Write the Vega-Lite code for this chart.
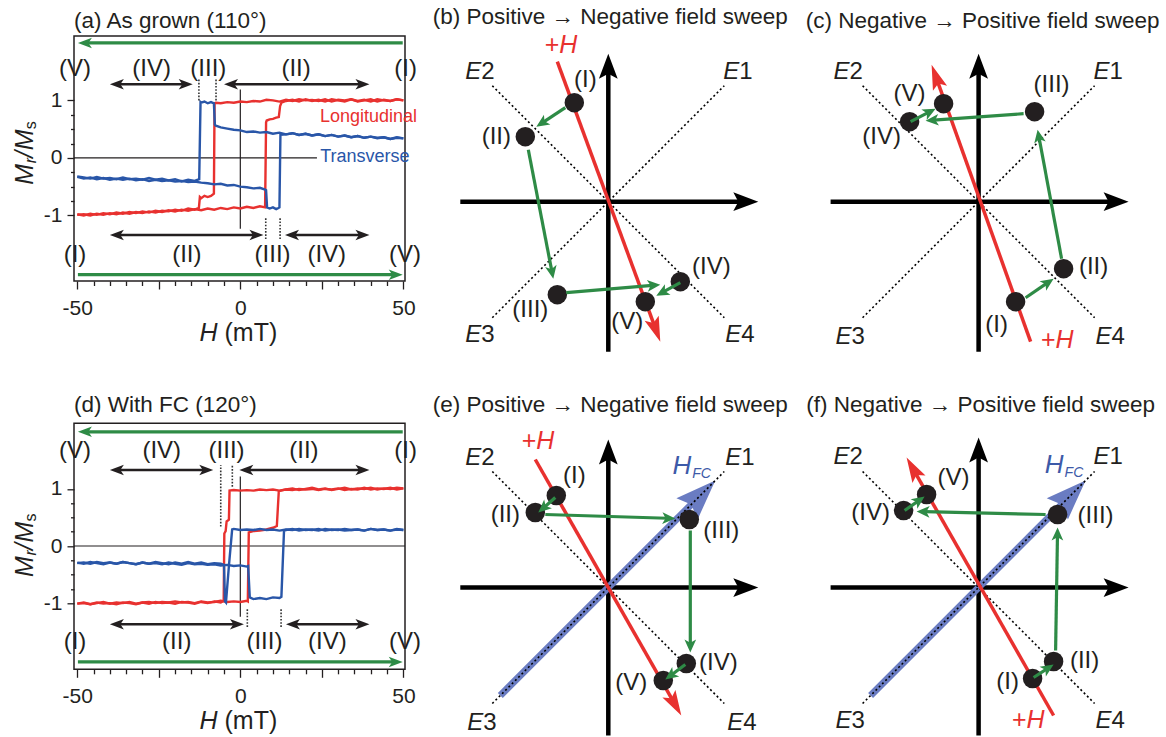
{
"$schema":"https://vega.github.io/schema/vega-lite/v6.json",
"padding":{"left":12,"top":6,"right":0,"bottom":0},
"background":"white",
"config":{"font":"Liberation Sans","view":{"stroke":"#231f20","strokeWidth":1.5}},
"datasets":{
"cv":[
{"p":"a","c":"Longitudinal","b":"d","xs":[50,48,46,44,42,40,38,36,34,32,30,28,26,24,22,20,18,16,14,12,10,8,6,4,2,0,-2,-4,-6,-7.5,-7.9,-8.1,-9,-10,-11,-12,-12.4,-12.7,-14,-16,-18,-20,-22,-24,-26,-28,-30,-32,-34,-36,-38,-40,-42,-44,-46,-48,-50],"ys":[1.00,1.02,0.99,1.01,0.98,1.02,1.00,0.98,1.02,1.00,1.01,0.98,1.02,0.99,1.01,1.00,1.02,0.99,1.01,0.98,1.00,1.01,0.98,0.99,0.97,0.98,0.96,0.97,0.95,0.96,0.95,-0.62,-0.66,-0.68,-0.66,-0.70,-0.68,-0.87,-0.90,-0.88,-0.92,-0.90,-0.93,-0.92,-0.95,-0.93,-0.96,-0.94,-0.97,-0.95,-0.98,-0.96,-0.99,-0.97,-1.00,-0.98,-0.99]},
{"p":"a","c":"Longitudinal","b":"a","xs":[-50,-48,-46,-44,-42,-40,-38,-36,-34,-32,-30,-28,-26,-24,-22,-20,-18,-16,-14,-12,-10,-8,-6,-4,-2,0,2,4,6,7.6,7.9,8.1,9,10,11,11.8,12.2,12.6,14,16,18,20,22,24,26,28,30,32,34,36,38,40,42,44,46,48,50],"ys":[-0.98,-1.00,-0.97,-0.99,-0.96,-0.98,-0.95,-0.97,-0.94,-0.96,-0.93,-0.95,-0.92,-0.94,-0.91,-0.93,-0.90,-0.92,-0.89,-0.91,-0.88,-0.90,-0.87,-0.89,-0.86,-0.88,-0.85,-0.87,-0.84,-0.86,0.62,0.65,0.67,0.68,0.70,0.71,0.90,0.96,0.99,1.01,0.98,1.02,0.99,1.01,0.98,1.02,1.00,0.98,1.02,0.99,1.01,0.98,1.02,1.00,0.99,1.02,1.00]},
{"p":"a","c":"Transverse","b":"d","xs":[50,48,46,44,42,40,38,36,34,32,30,28,26,24,22,20,18,16,14,12,10,8,6,4,2,0,-2,-4,-6,-7.5,-7.8,-8.1,-9,-10,-11,-12,-12.2,-12.6,-14,-16,-18,-20,-22,-24,-26,-28,-30,-32,-34,-36,-38,-40,-42,-44,-46,-48,-50],"ys":[0.34,0.36,0.33,0.36,0.35,0.37,0.35,0.38,0.36,0.39,0.37,0.40,0.38,0.41,0.39,0.42,0.40,0.43,0.41,0.44,0.42,0.45,0.44,0.46,0.45,0.48,0.49,0.51,0.53,0.56,0.58,0.95,0.97,0.95,0.98,0.96,0.97,-0.37,-0.40,-0.38,-0.41,-0.37,-0.39,-0.36,-0.38,-0.35,-0.38,-0.36,-0.37,-0.34,-0.37,-0.35,-0.36,-0.33,-0.36,-0.34,-0.32]},
{"p":"a","c":"Transverse","b":"a","xs":[-50,-48,-46,-44,-42,-40,-38,-36,-34,-32,-30,-28,-26,-24,-22,-20,-18,-16,-14,-12,-10,-8,-6,-4,-2,0,2,4,6,7.6,7.9,8.2,9,10,11,11.7,12.0,12.3,14,16,18,20,22,24,26,28,30,32,34,36,38,40,42,44,46,48,50],"ys":[-0.33,-0.36,-0.34,-0.37,-0.35,-0.38,-0.36,-0.38,-0.36,-0.39,-0.37,-0.40,-0.38,-0.40,-0.39,-0.41,-0.40,-0.42,-0.41,-0.43,-0.44,-0.46,-0.45,-0.48,-0.47,-0.50,-0.51,-0.53,-0.52,-0.55,-0.56,-0.86,-0.88,-0.86,-0.89,-0.87,-0.86,0.40,0.41,0.43,0.40,0.42,0.39,0.41,0.38,0.40,0.37,0.39,0.36,0.38,0.35,0.37,0.34,0.36,0.33,0.35,0.34]},
{"p":"d","c":"Longitudinal","b":"d","xs":[50,48,46,44,42,40,38,36,34,32,30,28,26,24,22,20,18,16,14,12,10,8,6,4,2,0,-2,-3.3,-3.5,-4.2,-4.5,-4.9,-5.1,-6,-8,-10,-12,-14,-16,-18,-20,-22,-24,-26,-28,-30,-32,-34,-36,-38,-40,-42,-44,-46,-48,-50],"ys":[1.01,0.99,1.02,1.00,1.01,0.99,1.02,0.99,1.00,0.98,1.01,0.99,1.00,0.98,1.00,0.99,1.00,0.98,0.99,0.97,0.99,0.98,0.99,0.97,0.98,0.97,0.98,0.97,0.46,0.43,0.26,0.22,-0.96,-0.99,-0.97,-1.00,-0.98,-1.01,-0.99,-0.98,-1.01,-0.99,-1.00,-0.98,-1.01,-0.99,-1.02,-1.00,-0.99,-1.02,-1.00,-1.01,-0.99,-1.02,-1.00,-1.01]},
{"p":"d","c":"Longitudinal","b":"a","xs":[-50,-48,-46,-44,-42,-40,-38,-36,-34,-32,-30,-28,-26,-24,-22,-20,-18,-16,-14,-12,-10,-8,-6,-4,-2,0,2,2.3,2.6,4,6,8,10,11.2,11.8,13,14,16,18,20,22,24,26,28,30,32,34,36,38,40,42,44,46,48,50],"ys":[-1.01,-0.99,-1.02,-1.00,-0.98,-1.01,-0.99,-1.00,-0.98,-1.01,-0.99,-0.98,-1.00,-0.98,-0.99,-0.97,-0.99,-0.98,-1.00,-0.97,-0.99,-0.98,-0.96,-0.98,-0.97,-0.98,-0.96,-0.97,0.24,0.26,0.27,0.29,0.32,0.35,0.96,0.98,0.99,1.01,0.98,1.00,1.02,0.99,1.01,0.98,1.00,1.02,0.99,1.01,1.00,1.02,0.99,1.01,1.00,1.02,1.01]},
{"p":"d","c":"Transverse","b":"d","xs":[50,48,46,44,42,40,38,36,34,32,30,28,26,24,22,20,18,16,14,12,10,8,6,4,2,0,-2,-2.5,-3.5,-4.4,-4.7,-5.0,-6,-8,-10,-12,-14,-16,-18,-20,-22,-24,-26,-28,-30,-32,-34,-36,-38,-40,-42,-44,-46,-48,-50],"ys":[0.28,0.30,0.27,0.29,0.28,0.30,0.27,0.29,0.28,0.27,0.29,0.28,0.30,0.27,0.29,0.28,0.30,0.28,0.29,0.27,0.29,0.28,0.30,0.28,0.29,0.28,0.30,0.29,-0.35,-0.99,-0.97,-0.33,-0.31,-0.30,-0.32,-0.29,-0.31,-0.28,-0.31,-0.29,-0.32,-0.30,-0.28,-0.31,-0.29,-0.32,-0.30,-0.28,-0.31,-0.29,-0.30,-0.28,-0.31,-0.29,-0.30]},
{"p":"d","c":"Transverse","b":"a","xs":[-50,-48,-46,-44,-42,-40,-38,-36,-34,-32,-30,-28,-26,-24,-22,-20,-18,-16,-14,-12,-10,-8,-6,-4,-2,0,2,2.4,2.9,4,6,8,10,12,12.6,13.4,14,16,18,20,22,24,26,28,30,32,34,36,38,40,42,44,46,48,50],"ys":[-0.29,-0.31,-0.28,-0.30,-0.32,-0.29,-0.31,-0.28,-0.30,-0.32,-0.29,-0.31,-0.30,-0.32,-0.29,-0.31,-0.33,-0.30,-0.32,-0.31,-0.33,-0.32,-0.34,-0.33,-0.35,-0.34,-0.36,-0.35,-0.90,-0.93,-0.91,-0.93,-0.90,-0.91,-0.89,0.27,0.28,0.30,0.27,0.29,0.28,0.30,0.27,0.29,0.28,0.30,0.28,0.29,0.27,0.30,0.28,0.29,0.27,0.29,0.28]}
],
"lp":[
{"p":"a","k":"zero","x":-51,"y":0,"x2":23.5,"y2":0},
{"p":"a","k":"zero","x":0,"y":-1.23,"x2":0,"y2":1.19},
{"p":"a","k":"dot","x":-12.7,"y":1.0,"x2":-12.7,"y2":1.39},
{"p":"a","k":"dot","x":-7.45,"y":1.0,"x2":-7.45,"y2":1.39},
{"p":"a","k":"dot","x":7.8,"y":-1.05,"x2":7.8,"y2":-1.42},
{"p":"a","k":"dot","x":12.2,"y":-1.05,"x2":12.2,"y2":-1.42},
{"p":"a","k":"green","x":49.8,"y":2.0,"x2":-49.8,"y2":2.0},
{"p":"a","k":"green","x":-49.8,"y":-2.03,"x2":49.8,"y2":-2.03},
{"p":"a","k":"dbl","x":-40,"y":1.28,"x2":-14.6,"y2":1.28},
{"p":"a","k":"dbl","x":-5,"y":1.28,"x2":39.6,"y2":1.28},
{"p":"a","k":"dbl","x":-40,"y":-1.34,"x2":7.1,"y2":-1.34},
{"p":"a","k":"dbl","x":13.7,"y":-1.34,"x2":39.6,"y2":-1.34},
{"p":"a","k":"lab","t":"(V)","x":-50.7,"y":1.54},
{"p":"a","k":"lab","t":"(IV)","x":-27.2,"y":1.54},
{"p":"a","k":"lab","t":"(III)","x":-9.8,"y":1.54},
{"p":"a","k":"lab","t":"(II)","x":17.1,"y":1.54},
{"p":"a","k":"lab","t":"(I)","x":50.7,"y":1.54},
{"p":"a","k":"lab","t":"(I)","x":-50.7,"y":-1.69},
{"p":"a","k":"lab","t":"(II)","x":-16.4,"y":-1.69},
{"p":"a","k":"lab","t":"(III)","x":9.9,"y":-1.69},
{"p":"a","k":"lab","t":"(IV)","x":26.5,"y":-1.69},
{"p":"a","k":"lab","t":"(V)","x":50.5,"y":-1.69},
{"p":"a","k":"name","t":"Longitudinal","c":"Longitudinal","x":24.4,"y":0.72},
{"p":"a","k":"name","t":"Transverse","c":"Transverse","x":24.5,"y":0.02},
{"p":"a","k":"xt","x":-7,"y":-3.18},
{"p":"a","k":"yt","x":-66.1,"y":0.16},
{"p":"d","k":"zero","x":-51,"y":0,"x2":50.5,"y2":0},
{"p":"d","k":"zero","x":0,"y":-1.24,"x2":0,"y2":1.22},
{"p":"d","k":"dot","x":-6.0,"y":0.34,"x2":-6.0,"y2":1.42},
{"p":"d","k":"dot","x":-2.45,"y":1.04,"x2":-2.45,"y2":1.42},
{"p":"d","k":"dot","x":2.15,"y":-1.11,"x2":2.15,"y2":-1.43},
{"p":"d","k":"dot","x":12.5,"y":-1.11,"x2":12.5,"y2":-1.43},
{"p":"d","k":"green","x":49.8,"y":2.0,"x2":-49.8,"y2":2.0},
{"p":"d","k":"green","x":-49.8,"y":-2.03,"x2":49.8,"y2":-2.03},
{"p":"d","k":"dbl","x":-40,"y":1.33,"x2":-8.3,"y2":1.33},
{"p":"d","k":"dbl","x":-0.3,"y":1.33,"x2":39.6,"y2":1.33},
{"p":"d","k":"dbl","x":-40,"y":-1.37,"x2":1.1,"y2":-1.37},
{"p":"d","k":"dbl","x":14,"y":-1.37,"x2":39.6,"y2":-1.37},
{"p":"d","k":"lab","t":"(V)","x":-50.7,"y":1.67},
{"p":"d","k":"lab","t":"(IV)","x":-24.1,"y":1.67},
{"p":"d","k":"lab","t":"(III)","x":-4.2,"y":1.67},
{"p":"d","k":"lab","t":"(II)","x":19.5,"y":1.67},
{"p":"d","k":"lab","t":"(I)","x":50.7,"y":1.67},
{"p":"d","k":"lab","t":"(I)","x":-50.7,"y":-1.68},
{"p":"d","k":"lab","t":"(II)","x":-19.5,"y":-1.68},
{"p":"d","k":"lab","t":"(III)","x":7.4,"y":-1.68},
{"p":"d","k":"lab","t":"(IV)","x":26.7,"y":-1.68},
{"p":"d","k":"lab","t":"(V)","x":50.5,"y":-1.68},
{"p":"d","k":"xt","x":-7,"y":-3.2},
{"p":"d","k":"yt","x":-66.1,"y":0.09}
],
"dg":[
{"p":"b","k":"axis","x":-1.48,"y":0,"x2":1.5,"y2":0},
{"p":"b","k":"axis","x":0,"y":-1.5,"x2":0,"y2":1.48},
{"p":"b","k":"diag","x":-1.16,"y":-1.16,"x2":1.16,"y2":1.16},
{"p":"b","k":"diag","x":-1.16,"y":1.16,"x2":1.16,"y2":-1.16},
{"p":"b","k":"red","x":-0.51,"y":1.4,"x2":0.52,"y2":-1.4},
{"p":"b","k":"green","x":-0.43,"y":0.94,"x2":-0.72,"y2":0.75},
{"p":"b","k":"green","x":-0.8,"y":0.52,"x2":-0.55,"y2":-0.77},
{"p":"b","k":"green","x":-0.42,"y":-0.91,"x2":0.52,"y2":-0.83},
{"p":"b","k":"green","x":0.72,"y":-0.81,"x2":0.48,"y2":-0.94},
{"p":"b","k":"pt","x":-0.34,"y":0.99},
{"p":"b","k":"pt","x":-0.83,"y":0.65},
{"p":"b","k":"pt","x":-0.51,"y":-0.93},
{"p":"b","k":"pt","x":0.72,"y":-0.8},
{"p":"b","k":"pt","x":0.37,"y":-1.0},
{"p":"b","k":"lab","t":"(I)","x":-0.23,"y":1.22},
{"p":"b","k":"lab","t":"(II)","x":-1.12,"y":0.65},
{"p":"b","k":"lab","t":"(III)","x":-0.78,"y":-1.08},
{"p":"b","k":"lab","t":"(IV)","x":1.03,"y":-0.65},
{"p":"b","k":"lab","t":"(V)","x":0.19,"y":-1.2},
{"p":"b","k":"E","t":"1","x":1.31,"y":1.3},
{"p":"b","k":"E","t":"2","x":-1.27,"y":1.3},
{"p":"b","k":"E","t":"3","x":-1.27,"y":-1.33},
{"p":"b","k":"E","t":"4","x":1.33,"y":-1.33},
{"p":"b","k":"H","x":-0.49,"y":1.57},
{"p":"c","k":"axis","x":-1.48,"y":0,"x2":1.5,"y2":0},
{"p":"c","k":"axis","x":0,"y":-1.5,"x2":0,"y2":1.48},
{"p":"c","k":"diag","x":-1.16,"y":-1.16,"x2":1.16,"y2":1.16},
{"p":"c","k":"diag","x":-1.16,"y":1.16,"x2":1.16,"y2":-1.16},
{"p":"c","k":"red","x":0.52,"y":-1.4,"x2":-0.47,"y2":1.37},
{"p":"c","k":"green","x":0.47,"y":-0.96,"x2":0.75,"y2":-0.77},
{"p":"c","k":"green","x":0.83,"y":-0.57,"x2":0.59,"y2":0.72},
{"p":"c","k":"green","x":0.45,"y":0.88,"x2":-0.53,"y2":0.81},
{"p":"c","k":"green","x":-0.68,"y":0.8,"x2":-0.43,"y2":0.93},
{"p":"c","k":"pt","x":0.37,"y":-1.0},
{"p":"c","k":"pt","x":0.85,"y":-0.67},
{"p":"c","k":"pt","x":0.56,"y":0.9},
{"p":"c","k":"pt","x":-0.69,"y":0.8},
{"p":"c","k":"pt","x":-0.35,"y":0.98},
{"p":"c","k":"lab","t":"(I)","x":0.18,"y":-1.23},
{"p":"c","k":"lab","t":"(II)","x":1.15,"y":-0.65},
{"p":"c","k":"lab","t":"(III)","x":0.73,"y":1.17},
{"p":"c","k":"lab","t":"(IV)","x":-0.97,"y":0.65},
{"p":"c","k":"lab","t":"(V)","x":-0.69,"y":1.08},
{"p":"c","k":"E","t":"1","x":1.31,"y":1.3},
{"p":"c","k":"E","t":"2","x":-1.29,"y":1.3},
{"p":"c","k":"E","t":"3","x":-1.27,"y":-1.35},
{"p":"c","k":"E","t":"4","x":1.33,"y":-1.35},
{"p":"c","k":"H","x":0.77,"y":-1.38},
{"p":"e","k":"axis","x":-1.48,"y":0,"x2":1.5,"y2":0},
{"p":"e","k":"axis","x":0,"y":-1.48,"x2":0,"y2":1.48},
{"p":"e","k":"fc","x":-1.08,"y":-1.08,"x2":1.07,"y2":1.07},
{"p":"e","k":"diag","x":-1.16,"y":-1.16,"x2":1.16,"y2":1.16},
{"p":"e","k":"diag","x":-1.16,"y":1.16,"x2":1.16,"y2":-1.16},
{"p":"e","k":"red","x":-0.73,"y":1.28,"x2":0.73,"y2":-1.28},
{"p":"e","k":"green","x":-0.53,"y":0.9,"x2":-0.7,"y2":0.75},
{"p":"e","k":"green","x":-0.63,"y":0.73,"x2":0.67,"y2":0.69},
{"p":"e","k":"green","x":0.82,"y":0.57,"x2":0.82,"y2":-0.65},
{"p":"e","k":"green","x":0.77,"y":-0.77,"x2":0.57,"y2":-0.92},
{"p":"e","k":"pt","x":-0.52,"y":0.92},
{"p":"e","k":"pt","x":-0.73,"y":0.75},
{"p":"e","k":"pt","x":0.81,"y":0.68},
{"p":"e","k":"pt","x":0.78,"y":-0.76},
{"p":"e","k":"pt","x":0.55,"y":-0.93},
{"p":"e","k":"lab","t":"(I)","x":-0.34,"y":1.12},
{"p":"e","k":"lab","t":"(II)","x":-1.03,"y":0.73},
{"p":"e","k":"lab","t":"(III)","x":1.13,"y":0.57},
{"p":"e","k":"lab","t":"(IV)","x":1.1,"y":-0.75},
{"p":"e","k":"lab","t":"(V)","x":0.23,"y":-0.95},
{"p":"e","k":"E","t":"1","x":1.33,"y":1.3},
{"p":"e","k":"E","t":"2","x":-1.27,"y":1.3},
{"p":"e","k":"E","t":"3","x":-1.25,"y":-1.35},
{"p":"e","k":"E","t":"4","x":1.35,"y":-1.35},
{"p":"e","k":"H","x":-0.72,"y":1.47},
{"p":"e","k":"HFC","x":0.83,"y":1.22},
{"p":"f","k":"axis","x":-1.48,"y":0,"x2":1.5,"y2":0},
{"p":"f","k":"axis","x":0,"y":-1.48,"x2":0,"y2":1.5},
{"p":"f","k":"fc","x":-1.08,"y":-1.08,"x2":1.07,"y2":1.07},
{"p":"f","k":"diag","x":-1.16,"y":-1.16,"x2":1.16,"y2":1.16},
{"p":"f","k":"diag","x":-1.16,"y":1.16,"x2":1.16,"y2":-1.16},
{"p":"f","k":"red","x":0.75,"y":-1.28,"x2":-0.72,"y2":1.3},
{"p":"f","k":"green","x":0.55,"y":-0.9,"x2":0.75,"y2":-0.77},
{"p":"f","k":"green","x":0.77,"y":-0.63,"x2":0.79,"y2":0.6},
{"p":"f","k":"green","x":0.67,"y":0.73,"x2":-0.62,"y2":0.76},
{"p":"f","k":"green","x":-0.74,"y":0.77,"x2":-0.54,"y2":0.91},
{"p":"f","k":"pt","x":0.54,"y":-0.91},
{"p":"f","k":"pt","x":0.75,"y":-0.74},
{"p":"f","k":"pt","x":0.79,"y":0.73},
{"p":"f","k":"pt","x":-0.75,"y":0.77},
{"p":"f","k":"pt","x":-0.52,"y":0.93},
{"p":"f","k":"lab","t":"(I)","x":0.29,"y":-0.94},
{"p":"f","k":"lab","t":"(II)","x":1.06,"y":-0.73},
{"p":"f","k":"lab","t":"(III)","x":1.17,"y":0.72},
{"p":"f","k":"lab","t":"(IV)","x":-1.08,"y":0.75},
{"p":"f","k":"lab","t":"(V)","x":-0.25,"y":1.1},
{"p":"f","k":"E","t":"1","x":1.31,"y":1.31},
{"p":"f","k":"E","t":"2","x":-1.29,"y":1.31},
{"p":"f","k":"E","t":"3","x":-1.27,"y":-1.33},
{"p":"f","k":"E","t":"4","x":1.33,"y":-1.33},
{"p":"f","k":"H","x":0.48,"y":-1.32},
{"p":"f","k":"HFC","x":0.85,"y":1.23}
]
},
"columns":3,
"spacing":{"row":61.3,"column":43.3},
"bounds":"flush",
"concat":[
{
"width":331,"height":245,
"title":{"text":"(a) As grown (110°)","anchor":"start","frame":"group","baseline":"alphabetic","offset":10,"dy":24,"fontSize":22.5,"fontWeight":"normal","color":"#231f20"},
"data":{"name":"lp"},
"transform":[{"filter":"datum.p==='a'"},
{"calculate":"abs(datum.x2-datum.x)","as":"L"},
{"calculate":"datum.k==='green'?2.45:(datum.k==='dbl'?2.15:0)","as":"sh"},
{"calculate":"datum.L>0?datum.x2-(datum.x2-datum.x)/datum.L*datum.sh:datum.x2","as":"ex"},
{"calculate":"datum.L>0?datum.x+(datum.x2-datum.x)/datum.L*datum.sh:datum.x","as":"sx"},
{"calculate":"atan2(datum.x2-datum.x,datum.y2-datum.y)*180/PI","as":"ang"}],
"encoding":{
"x":{"field":"x","type":"quantitative","scale":{"domain":[-51,50.5],"nice":false,"zero":false},"axis":{"values":[-50,-45,-40,-35,-30,-25,-20,-15,-10,-5,0,5,10,15,20,25,30,35,40,45,50],"title":null,"domain":false,"grid":false,"labelExpr":"datum.value===-50?'-50':(datum.value===0?'0':(datum.value===50?'50':''))","labelFlush":false,"labelOverlap":false,"labelBound":false,"labelFont":"Liberation Sans","labelFontSize":21,"labelColor":"#231f20","labelPadding":8,"tickColor":"#231f20","tickWidth":1.3,"tickSize":{"condition":{"test":"datum.value%25===0","value":8},"value":4.5}}},
"y":{"field":"y","type":"quantitative","scale":{"domain":[-2.14,2.12],"nice":false,"zero":false},"axis":{"values":[-1,-0.75,-0.5,-0.25,0,0.25,0.5,0.75,1],"title":null,"domain":false,"grid":false,"labelExpr":"datum.value===1?'1':(datum.value===0?'0':(datum.value===-1?'-1':''))","labelFlush":false,"labelOverlap":false,"labelBound":false,"labelFont":"Liberation Sans","labelFontSize":21,"labelColor":"#231f20","labelPadding":5,"tickColor":"#231f20","tickWidth":1.3,"tickSize":{"condition":{"test":"datum.value%1===0","value":7},"value":3.5}}}
},
"layer":[
{"transform":[{"filter":"datum.k==='zero'"}],"mark":{"type":"rule","color":"#231f20","strokeWidth":1.2},"encoding":{"x2":{"field":"x2"},"y2":{"field":"y2"}}},
{"data":{"name":"cv"},"transform":[{"filter":"datum.p==='a'"},{"flatten":["xs","ys"],"as":["x","y"]}],"mark":{"type":"line","strokeWidth":2.4},"encoding":{"color":{"field":"c","type":"nominal","scale":{"domain":["Longitudinal","Transverse"],"range":["#e8312f","#2956a8"]},"legend":null},"detail":{"field":"b"},"order":{"value":null}}},
{"transform":[{"filter":"datum.k==='dot'"}],"mark":{"type":"rule","color":"#333333","strokeWidth":1.6,"strokeDash":[1.6,1.6]},"encoding":{"y2":{"field":"y2"}}},
{"transform":[{"filter":"datum.k==='green'"}],"mark":{"type":"rule","color":"#2e8b46","strokeWidth":3.2},"encoding":{"x2":{"field":"ex"}}},
{"transform":[{"filter":"datum.k==='green'"},{"calculate":"datum.x2","as":"x"}],"mark":{"type":"point","shape":"M0,0L0.75,2L0,1.5L-0.75,2Z","filled":true,"size":196,"color":"#2e8b46","opacity":1,"strokeWidth":0},"encoding":{"angle":{"field":"ang","type":"quantitative","scale":null}}},
{"transform":[{"filter":"datum.k==='dbl'"},{"calculate":"datum.sx","as":"x"}],"mark":{"type":"rule","color":"#231f20","strokeWidth":2.5},"encoding":{"x2":{"field":"ex"}}},
{"transform":[{"filter":"datum.k==='dbl'"},{"calculate":"datum.x2","as":"x"}],"mark":{"type":"point","shape":"M0,0L0.75,2L0,1.5L-0.75,2Z","filled":true,"size":196,"color":"#231f20","opacity":1,"strokeWidth":0},"encoding":{"angle":{"field":"ang","type":"quantitative","scale":null}}},
{"transform":[{"filter":"datum.k==='dbl'"},{"calculate":"datum.ang+180","as":"ang2"}],"mark":{"type":"point","shape":"M0,0L0.75,2L0,1.5L-0.75,2Z","filled":true,"size":196,"color":"#231f20","opacity":1,"strokeWidth":0},"encoding":{"angle":{"field":"ang2","type":"quantitative","scale":null}}},
{"transform":[{"filter":"datum.k==='lab'"}],"mark":{"type":"text","fontSize":24,"color":"#231f20","align":"center","baseline":"middle"},"encoding":{"text":{"field":"t"}}},
{"transform":[{"filter":"datum.k==='name'"}],"mark":{"type":"text","fontSize":18,"align":"left","baseline":"middle"},"encoding":{"text":{"field":"t"},"color":{"field":"c","type":"nominal","scale":{"domain":["Longitudinal","Transverse"],"range":["#e8312f","#2956a8"]},"legend":null}}},
{"transform":[{"filter":"datum.k==='xt'"}],"mark":{"type":"text","text":"H","fontSize":25,"fontStyle":"italic","align":"right","baseline":"alphabetic","color":"#231f20"}},
{"transform":[{"filter":"datum.k==='xt'"}],"mark":{"type":"text","text":"(mT)","fontSize":25,"align":"left","baseline":"alphabetic","dx":7,"color":"#231f20"}},
{"transform":[{"filter":"datum.k==='yt'"}],"mark":{"type":"text","text":"M","angle":270,"fontSize":25,"fontStyle":"italic","align":"left","baseline":"middle","dx":-36,"color":"#231f20"}},
{"transform":[{"filter":"datum.k==='yt'"}],"mark":{"type":"text","text":"r","angle":270,"fontSize":16,"fontStyle":"italic","align":"left","baseline":"middle","dx":-14.5,"dy":6,"color":"#231f20"}},
{"transform":[{"filter":"datum.k==='yt'"}],"mark":{"type":"text","text":"/","angle":270,"fontSize":25,"fontStyle":"italic","align":"left","baseline":"middle","dx":-9,"color":"#231f20"}},
{"transform":[{"filter":"datum.k==='yt'"}],"mark":{"type":"text","text":"M","angle":270,"fontSize":25,"fontStyle":"italic","align":"left","baseline":"middle","dx":-1.5,"color":"#231f20"}},
{"transform":[{"filter":"datum.k==='yt'"}],"mark":{"type":"text","text":"s","angle":270,"fontSize":16,"align":"left","baseline":"middle","dx":19.5,"dy":6,"color":"#231f20"}}
]
},
{
"width":330,"height":326,"view":{"stroke":null},
"title":{"text":"(b) Positive → Negative field sweep","anchor":"middle","frame":"group","baseline":"alphabetic","offset":10,"dy":24,"dx":-3,"fontSize":22.5,"fontWeight":"normal","color":"#231f20"},
"data":{"name":"dg"},
"transform":[{"filter":"datum.p==='b'"},
{"calculate":"sqrt(pow(datum.x2-datum.x,2)+pow(datum.y2-datum.y,2))","as":"L"},
{"calculate":"datum.k==='green'?0.08:(datum.k==='fc'?0.25:0.15)","as":"sh"},
{"calculate":"datum.x2-(datum.x2-datum.x)/datum.L*datum.sh","as":"ex"},
{"calculate":"datum.y2-(datum.y2-datum.y)/datum.L*datum.sh","as":"ey"},
{"calculate":"atan2(datum.x2-datum.x,datum.y2-datum.y)*180/PI","as":"ang"}],
"encoding":{"x":{"field":"x","type":"quantitative","scale":{"domain":[-1.6,1.7],"nice":false,"zero":false},"axis":null},"y":{"field":"y","type":"quantitative","scale":{"domain":[-1.603,1.657],"nice":false,"zero":false},"axis":null}},
"layer":[
{"transform":[{"filter":"datum.k==='axis'"}],"mark":{"type":"rule","color":"#000000","strokeWidth":4.5},"encoding":{"x2":{"field":"ex"},"y2":{"field":"ey"}}},
{"transform":[{"filter":"datum.k==='axis'"},{"calculate":"datum.x2","as":"x"},{"calculate":"datum.y2","as":"y"}],"mark":{"type":"point","shape":"M0,0L0.75,2L0,1.6L-0.75,2Z","filled":true,"size":625,"color":"#000000","opacity":1,"strokeWidth":0},"encoding":{"angle":{"field":"ang","type":"quantitative","scale":null}}},
{"transform":[{"filter":"datum.k==='diag'"}],"mark":{"type":"rule","color":"#000000","strokeWidth":1.6,"strokeDash":[2,2.6]},"encoding":{"x2":{"field":"x2"},"y2":{"field":"y2"}}},
{"transform":[{"filter":"datum.k==='red'"}],"mark":{"type":"rule","color":"#e8312f","strokeWidth":3.5},"encoding":{"x2":{"field":"ex"},"y2":{"field":"ey"}}},
{"transform":[{"filter":"datum.k==='red'"},{"calculate":"datum.x2","as":"x"},{"calculate":"datum.y2","as":"y"}],"mark":{"type":"point","shape":"M0,0L0.6,2L0,1.6L-0.6,2Z","filled":true,"size":625,"color":"#e8312f","opacity":1,"strokeWidth":0},"encoding":{"angle":{"field":"ang","type":"quantitative","scale":null}}},
{"transform":[{"filter":"datum.k==='pt'"}],"mark":{"type":"circle","size":380,"color":"#231f20","opacity":1}},
{"transform":[{"filter":"datum.k==='green'"}],"mark":{"type":"rule","color":"#2e8b46","strokeWidth":3.2},"encoding":{"x2":{"field":"ex"},"y2":{"field":"ey"}}},
{"transform":[{"filter":"datum.k==='green'"},{"calculate":"datum.x2","as":"x"},{"calculate":"datum.y2","as":"y"}],"mark":{"type":"point","shape":"M0,0L0.9,2L0,1.5L-0.9,2Z","filled":true,"size":169,"color":"#2e8b46","opacity":1,"strokeWidth":0},"encoding":{"angle":{"field":"ang","type":"quantitative","scale":null}}},
{"transform":[{"filter":"datum.k==='lab'"}],"mark":{"type":"text","fontSize":24,"color":"#231f20","align":"center","baseline":"middle"},"encoding":{"text":{"field":"t"}}},
{"transform":[{"filter":"datum.k==='E'"}],"mark":{"type":"text","text":"E","fontSize":24,"fontStyle":"italic","color":"#231f20","align":"right","baseline":"middle"}},
{"transform":[{"filter":"datum.k==='E'"}],"mark":{"type":"text","fontSize":24,"color":"#231f20","align":"left","baseline":"middle"},"encoding":{"text":{"field":"t"}}},
{"transform":[{"filter":"datum.k==='H'"}],"mark":{"type":"text","text":"+","fontSize":25,"color":"#e8312f","align":"right","baseline":"middle"}},
{"transform":[{"filter":"datum.k==='H'"}],"mark":{"type":"text","text":"H","fontSize":25,"fontStyle":"italic","color":"#e8312f","align":"left","baseline":"middle"}}
]
},
{
"width":330,"height":326,"view":{"stroke":null},
"title":{"text":"(c) Negative → Positive field sweep","anchor":"middle","frame":"group","baseline":"alphabetic","offset":10,"dy":24,"dx":-4,"fontSize":22.5,"fontWeight":"normal","color":"#231f20"},
"data":{"name":"dg"},
"transform":[{"filter":"datum.p==='c'"},
{"calculate":"sqrt(pow(datum.x2-datum.x,2)+pow(datum.y2-datum.y,2))","as":"L"},
{"calculate":"datum.k==='green'?0.08:(datum.k==='fc'?0.25:0.15)","as":"sh"},
{"calculate":"datum.x2-(datum.x2-datum.x)/datum.L*datum.sh","as":"ex"},
{"calculate":"datum.y2-(datum.y2-datum.y)/datum.L*datum.sh","as":"ey"},
{"calculate":"atan2(datum.x2-datum.x,datum.y2-datum.y)*180/PI","as":"ang"}],
"encoding":{"x":{"field":"x","type":"quantitative","scale":{"domain":[-1.57,1.73],"nice":false,"zero":false},"axis":null},"y":{"field":"y","type":"quantitative","scale":{"domain":[-1.603,1.657],"nice":false,"zero":false},"axis":null}},
"layer":[
{"transform":[{"filter":"datum.k==='axis'"}],"mark":{"type":"rule","color":"#000000","strokeWidth":4.5},"encoding":{"x2":{"field":"ex"},"y2":{"field":"ey"}}},
{"transform":[{"filter":"datum.k==='axis'"},{"calculate":"datum.x2","as":"x"},{"calculate":"datum.y2","as":"y"}],"mark":{"type":"point","shape":"M0,0L0.75,2L0,1.6L-0.75,2Z","filled":true,"size":625,"color":"#000000","opacity":1,"strokeWidth":0},"encoding":{"angle":{"field":"ang","type":"quantitative","scale":null}}},
{"transform":[{"filter":"datum.k==='diag'"}],"mark":{"type":"rule","color":"#000000","strokeWidth":1.6,"strokeDash":[2,2.6]},"encoding":{"x2":{"field":"x2"},"y2":{"field":"y2"}}},
{"transform":[{"filter":"datum.k==='red'"}],"mark":{"type":"rule","color":"#e8312f","strokeWidth":3.5},"encoding":{"x2":{"field":"ex"},"y2":{"field":"ey"}}},
{"transform":[{"filter":"datum.k==='red'"},{"calculate":"datum.x2","as":"x"},{"calculate":"datum.y2","as":"y"}],"mark":{"type":"point","shape":"M0,0L0.6,2L0,1.6L-0.6,2Z","filled":true,"size":625,"color":"#e8312f","opacity":1,"strokeWidth":0},"encoding":{"angle":{"field":"ang","type":"quantitative","scale":null}}},
{"transform":[{"filter":"datum.k==='pt'"}],"mark":{"type":"circle","size":380,"color":"#231f20","opacity":1}},
{"transform":[{"filter":"datum.k==='green'"}],"mark":{"type":"rule","color":"#2e8b46","strokeWidth":3.2},"encoding":{"x2":{"field":"ex"},"y2":{"field":"ey"}}},
{"transform":[{"filter":"datum.k==='green'"},{"calculate":"datum.x2","as":"x"},{"calculate":"datum.y2","as":"y"}],"mark":{"type":"point","shape":"M0,0L0.9,2L0,1.5L-0.9,2Z","filled":true,"size":169,"color":"#2e8b46","opacity":1,"strokeWidth":0},"encoding":{"angle":{"field":"ang","type":"quantitative","scale":null}}},
{"transform":[{"filter":"datum.k==='lab'"}],"mark":{"type":"text","fontSize":24,"color":"#231f20","align":"center","baseline":"middle"},"encoding":{"text":{"field":"t"}}},
{"transform":[{"filter":"datum.k==='E'"}],"mark":{"type":"text","text":"E","fontSize":24,"fontStyle":"italic","color":"#231f20","align":"right","baseline":"middle"}},
{"transform":[{"filter":"datum.k==='E'"}],"mark":{"type":"text","fontSize":24,"color":"#231f20","align":"left","baseline":"middle"},"encoding":{"text":{"field":"t"}}},
{"transform":[{"filter":"datum.k==='H'"}],"mark":{"type":"text","text":"+","fontSize":25,"color":"#e8312f","align":"right","baseline":"middle"}},
{"transform":[{"filter":"datum.k==='H'"}],"mark":{"type":"text","text":"H","fontSize":25,"fontStyle":"italic","color":"#e8312f","align":"left","baseline":"middle"}}
]
},
{
"width":331,"height":246,
"title":{"text":"(d) With FC (120°)","anchor":"start","frame":"group","baseline":"alphabetic","offset":12.5,"dy":24,"fontSize":22.5,"fontWeight":"normal","color":"#231f20"},
"data":{"name":"lp"},
"transform":[{"filter":"datum.p==='d'"},
{"calculate":"abs(datum.x2-datum.x)","as":"L"},
{"calculate":"datum.k==='green'?2.45:(datum.k==='dbl'?2.15:0)","as":"sh"},
{"calculate":"datum.L>0?datum.x2-(datum.x2-datum.x)/datum.L*datum.sh:datum.x2","as":"ex"},
{"calculate":"datum.L>0?datum.x+(datum.x2-datum.x)/datum.L*datum.sh:datum.x","as":"sx"},
{"calculate":"atan2(datum.x2-datum.x,datum.y2-datum.y)*180/PI","as":"ang"}],
"encoding":{
"x":{"field":"x","type":"quantitative","scale":{"domain":[-51,50.5],"nice":false,"zero":false},"axis":{"values":[-50,-45,-40,-35,-30,-25,-20,-15,-10,-5,0,5,10,15,20,25,30,35,40,45,50],"title":null,"domain":false,"grid":false,"labelExpr":"datum.value===-50?'-50':(datum.value===0?'0':(datum.value===50?'50':''))","labelFlush":false,"labelOverlap":false,"labelBound":false,"labelFont":"Liberation Sans","labelFontSize":21,"labelColor":"#231f20","labelPadding":8,"tickColor":"#231f20","tickWidth":1.3,"tickSize":{"condition":{"test":"datum.value%25===0","value":8},"value":4.5}}},
"y":{"field":"y","type":"quantitative","scale":{"domain":[-2.16,2.15],"nice":false,"zero":false},"axis":{"values":[-1,-0.75,-0.5,-0.25,0,0.25,0.5,0.75,1],"title":null,"domain":false,"grid":false,"labelExpr":"datum.value===1?'1':(datum.value===0?'0':(datum.value===-1?'-1':''))","labelFlush":false,"labelOverlap":false,"labelBound":false,"labelFont":"Liberation Sans","labelFontSize":21,"labelColor":"#231f20","labelPadding":5,"tickColor":"#231f20","tickWidth":1.3,"tickSize":{"condition":{"test":"datum.value%1===0","value":7},"value":3.5}}}
},
"layer":[
{"transform":[{"filter":"datum.k==='zero'"}],"mark":{"type":"rule","color":"#231f20","strokeWidth":1.2},"encoding":{"x2":{"field":"x2"},"y2":{"field":"y2"}}},
{"data":{"name":"cv"},"transform":[{"filter":"datum.p==='d'"},{"flatten":["xs","ys"],"as":["x","y"]}],"mark":{"type":"line","strokeWidth":2.4},"encoding":{"color":{"field":"c","type":"nominal","scale":{"domain":["Longitudinal","Transverse"],"range":["#e8312f","#2956a8"]},"legend":null},"detail":{"field":"b"},"order":{"value":null}}},
{"transform":[{"filter":"datum.k==='dot'"}],"mark":{"type":"rule","color":"#333333","strokeWidth":1.6,"strokeDash":[1.6,1.6]},"encoding":{"y2":{"field":"y2"}}},
{"transform":[{"filter":"datum.k==='green'"}],"mark":{"type":"rule","color":"#2e8b46","strokeWidth":3.2},"encoding":{"x2":{"field":"ex"}}},
{"transform":[{"filter":"datum.k==='green'"},{"calculate":"datum.x2","as":"x"}],"mark":{"type":"point","shape":"M0,0L0.75,2L0,1.5L-0.75,2Z","filled":true,"size":196,"color":"#2e8b46","opacity":1,"strokeWidth":0},"encoding":{"angle":{"field":"ang","type":"quantitative","scale":null}}},
{"transform":[{"filter":"datum.k==='dbl'"},{"calculate":"datum.sx","as":"x"}],"mark":{"type":"rule","color":"#231f20","strokeWidth":2.5},"encoding":{"x2":{"field":"ex"}}},
{"transform":[{"filter":"datum.k==='dbl'"},{"calculate":"datum.x2","as":"x"}],"mark":{"type":"point","shape":"M0,0L0.75,2L0,1.5L-0.75,2Z","filled":true,"size":196,"color":"#231f20","opacity":1,"strokeWidth":0},"encoding":{"angle":{"field":"ang","type":"quantitative","scale":null}}},
{"transform":[{"filter":"datum.k==='dbl'"},{"calculate":"datum.ang+180","as":"ang2"}],"mark":{"type":"point","shape":"M0,0L0.75,2L0,1.5L-0.75,2Z","filled":true,"size":196,"color":"#231f20","opacity":1,"strokeWidth":0},"encoding":{"angle":{"field":"ang2","type":"quantitative","scale":null}}},
{"transform":[{"filter":"datum.k==='lab'"}],"mark":{"type":"text","fontSize":24,"color":"#231f20","align":"center","baseline":"middle"},"encoding":{"text":{"field":"t"}}},
{"transform":[{"filter":"datum.k==='xt'"}],"mark":{"type":"text","text":"H","fontSize":25,"fontStyle":"italic","align":"right","baseline":"alphabetic","color":"#231f20"}},
{"transform":[{"filter":"datum.k==='xt'"}],"mark":{"type":"text","text":"(mT)","fontSize":25,"align":"left","baseline":"alphabetic","dx":7,"color":"#231f20"}},
{"transform":[{"filter":"datum.k==='yt'"}],"mark":{"type":"text","text":"M","angle":270,"fontSize":25,"fontStyle":"italic","align":"left","baseline":"middle","dx":-36,"color":"#231f20"}},
{"transform":[{"filter":"datum.k==='yt'"}],"mark":{"type":"text","text":"r","angle":270,"fontSize":16,"fontStyle":"italic","align":"left","baseline":"middle","dx":-14.5,"dy":6,"color":"#231f20"}},
{"transform":[{"filter":"datum.k==='yt'"}],"mark":{"type":"text","text":"/","angle":270,"fontSize":25,"fontStyle":"italic","align":"left","baseline":"middle","dx":-9,"color":"#231f20"}},
{"transform":[{"filter":"datum.k==='yt'"}],"mark":{"type":"text","text":"M","angle":270,"fontSize":25,"fontStyle":"italic","align":"left","baseline":"middle","dx":-1.5,"color":"#231f20"}},
{"transform":[{"filter":"datum.k==='yt'"}],"mark":{"type":"text","text":"s","angle":270,"fontSize":16,"align":"left","baseline":"middle","dx":19.5,"dy":6,"color":"#231f20"}}
]
},
{
"width":330,"height":313,"view":{"stroke":null},
"title":{"text":"(e) Positive → Negative field sweep","anchor":"middle","frame":"group","baseline":"alphabetic","offset":13,"dy":24,"dx":-3,"fontSize":22.5,"fontWeight":"normal","color":"#231f20"},
"data":{"name":"dg"},
"transform":[{"filter":"datum.p==='e'"},
{"calculate":"sqrt(pow(datum.x2-datum.x,2)+pow(datum.y2-datum.y,2))","as":"L"},
{"calculate":"datum.k==='green'?0.08:(datum.k==='fc'?0.25:0.15)","as":"sh"},
{"calculate":"datum.x2-(datum.x2-datum.x)/datum.L*datum.sh","as":"ex"},
{"calculate":"datum.y2-(datum.y2-datum.y)/datum.L*datum.sh","as":"ey"},
{"calculate":"atan2(datum.x2-datum.x,datum.y2-datum.y)*180/PI","as":"ang"}],
"encoding":{"x":{"field":"x","type":"quantitative","scale":{"domain":[-1.6,1.7],"nice":false,"zero":false},"axis":null},"y":{"field":"y","type":"quantitative","scale":{"domain":[-1.488,1.642],"nice":false,"zero":false},"axis":null}},
"layer":[
{"transform":[{"filter":"datum.k==='axis'"}],"mark":{"type":"rule","color":"#000000","strokeWidth":4.5},"encoding":{"x2":{"field":"ex"},"y2":{"field":"ey"}}},
{"transform":[{"filter":"datum.k==='axis'"},{"calculate":"datum.x2","as":"x"},{"calculate":"datum.y2","as":"y"}],"mark":{"type":"point","shape":"M0,0L0.75,2L0,1.6L-0.75,2Z","filled":true,"size":625,"color":"#000000","opacity":1,"strokeWidth":0},"encoding":{"angle":{"field":"ang","type":"quantitative","scale":null}}},
{"transform":[{"filter":"datum.k==='fc'"}],"mark":{"type":"rule","color":"#6a7cc2","strokeWidth":7},"encoding":{"x2":{"field":"ex"},"y2":{"field":"ey"}}},
{"transform":[{"filter":"datum.k==='fc'"},{"calculate":"datum.x2","as":"x"},{"calculate":"datum.y2","as":"y"}],"mark":{"type":"point","shape":"M0,0L0.75,2L0,1.7L-0.75,2Z","filled":true,"size":1600,"color":"#6a7cc2","opacity":1,"strokeWidth":0},"encoding":{"angle":{"field":"ang","type":"quantitative","scale":null}}},
{"transform":[{"filter":"datum.k==='diag'"}],"mark":{"type":"rule","color":"#000000","strokeWidth":1.6,"strokeDash":[2,2.6]},"encoding":{"x2":{"field":"x2"},"y2":{"field":"y2"}}},
{"transform":[{"filter":"datum.k==='red'"}],"mark":{"type":"rule","color":"#e8312f","strokeWidth":3.5},"encoding":{"x2":{"field":"ex"},"y2":{"field":"ey"}}},
{"transform":[{"filter":"datum.k==='red'"},{"calculate":"datum.x2","as":"x"},{"calculate":"datum.y2","as":"y"}],"mark":{"type":"point","shape":"M0,0L0.6,2L0,1.6L-0.6,2Z","filled":true,"size":625,"color":"#e8312f","opacity":1,"strokeWidth":0},"encoding":{"angle":{"field":"ang","type":"quantitative","scale":null}}},
{"transform":[{"filter":"datum.k==='pt'"}],"mark":{"type":"circle","size":380,"color":"#231f20","opacity":1}},
{"transform":[{"filter":"datum.k==='green'"}],"mark":{"type":"rule","color":"#2e8b46","strokeWidth":3.2},"encoding":{"x2":{"field":"ex"},"y2":{"field":"ey"}}},
{"transform":[{"filter":"datum.k==='green'"},{"calculate":"datum.x2","as":"x"},{"calculate":"datum.y2","as":"y"}],"mark":{"type":"point","shape":"M0,0L0.9,2L0,1.5L-0.9,2Z","filled":true,"size":169,"color":"#2e8b46","opacity":1,"strokeWidth":0},"encoding":{"angle":{"field":"ang","type":"quantitative","scale":null}}},
{"transform":[{"filter":"datum.k==='lab'"}],"mark":{"type":"text","fontSize":24,"color":"#231f20","align":"center","baseline":"middle"},"encoding":{"text":{"field":"t"}}},
{"transform":[{"filter":"datum.k==='E'"}],"mark":{"type":"text","text":"E","fontSize":24,"fontStyle":"italic","color":"#231f20","align":"right","baseline":"middle"}},
{"transform":[{"filter":"datum.k==='E'"}],"mark":{"type":"text","fontSize":24,"color":"#231f20","align":"left","baseline":"middle"},"encoding":{"text":{"field":"t"}}},
{"transform":[{"filter":"datum.k==='H'"}],"mark":{"type":"text","text":"+","fontSize":25,"color":"#e8312f","align":"right","baseline":"middle"}},
{"transform":[{"filter":"datum.k==='H'"}],"mark":{"type":"text","text":"H","fontSize":25,"fontStyle":"italic","color":"#e8312f","align":"left","baseline":"middle"}},
{"transform":[{"filter":"datum.k==='HFC'"}],"mark":{"type":"text","text":"H","fontSize":26,"fontStyle":"italic","color":"#3d5aa8","align":"right","baseline":"middle"}},
{"transform":[{"filter":"datum.k==='HFC'"}],"mark":{"type":"text","text":"FC","fontSize":14,"fontStyle":"italic","color":"#3d5aa8","align":"left","baseline":"middle","dx":1,"dy":8}}
]
},
{
"width":330,"height":313,"view":{"stroke":null},
"title":{"text":"(f) Negative → Positive field sweep","anchor":"middle","frame":"group","baseline":"alphabetic","offset":13,"dy":24,"dx":-6,"fontSize":22.5,"fontWeight":"normal","color":"#231f20"},
"data":{"name":"dg"},
"transform":[{"filter":"datum.p==='f'"},
{"calculate":"sqrt(pow(datum.x2-datum.x,2)+pow(datum.y2-datum.y,2))","as":"L"},
{"calculate":"datum.k==='green'?0.08:(datum.k==='fc'?0.25:0.15)","as":"sh"},
{"calculate":"datum.x2-(datum.x2-datum.x)/datum.L*datum.sh","as":"ex"},
{"calculate":"datum.y2-(datum.y2-datum.y)/datum.L*datum.sh","as":"ey"},
{"calculate":"atan2(datum.x2-datum.x,datum.y2-datum.y)*180/PI","as":"ang"}],
"encoding":{"x":{"field":"x","type":"quantitative","scale":{"domain":[-1.57,1.73],"nice":false,"zero":false},"axis":null},"y":{"field":"y","type":"quantitative","scale":{"domain":[-1.488,1.642],"nice":false,"zero":false},"axis":null}},
"layer":[
{"transform":[{"filter":"datum.k==='axis'"}],"mark":{"type":"rule","color":"#000000","strokeWidth":4.5},"encoding":{"x2":{"field":"ex"},"y2":{"field":"ey"}}},
{"transform":[{"filter":"datum.k==='axis'"},{"calculate":"datum.x2","as":"x"},{"calculate":"datum.y2","as":"y"}],"mark":{"type":"point","shape":"M0,0L0.75,2L0,1.6L-0.75,2Z","filled":true,"size":625,"color":"#000000","opacity":1,"strokeWidth":0},"encoding":{"angle":{"field":"ang","type":"quantitative","scale":null}}},
{"transform":[{"filter":"datum.k==='fc'"}],"mark":{"type":"rule","color":"#6a7cc2","strokeWidth":7},"encoding":{"x2":{"field":"ex"},"y2":{"field":"ey"}}},
{"transform":[{"filter":"datum.k==='fc'"},{"calculate":"datum.x2","as":"x"},{"calculate":"datum.y2","as":"y"}],"mark":{"type":"point","shape":"M0,0L0.75,2L0,1.7L-0.75,2Z","filled":true,"size":1600,"color":"#6a7cc2","opacity":1,"strokeWidth":0},"encoding":{"angle":{"field":"ang","type":"quantitative","scale":null}}},
{"transform":[{"filter":"datum.k==='diag'"}],"mark":{"type":"rule","color":"#000000","strokeWidth":1.6,"strokeDash":[2,2.6]},"encoding":{"x2":{"field":"x2"},"y2":{"field":"y2"}}},
{"transform":[{"filter":"datum.k==='red'"}],"mark":{"type":"rule","color":"#e8312f","strokeWidth":3.5},"encoding":{"x2":{"field":"ex"},"y2":{"field":"ey"}}},
{"transform":[{"filter":"datum.k==='red'"},{"calculate":"datum.x2","as":"x"},{"calculate":"datum.y2","as":"y"}],"mark":{"type":"point","shape":"M0,0L0.6,2L0,1.6L-0.6,2Z","filled":true,"size":625,"color":"#e8312f","opacity":1,"strokeWidth":0},"encoding":{"angle":{"field":"ang","type":"quantitative","scale":null}}},
{"transform":[{"filter":"datum.k==='pt'"}],"mark":{"type":"circle","size":380,"color":"#231f20","opacity":1}},
{"transform":[{"filter":"datum.k==='green'"}],"mark":{"type":"rule","color":"#2e8b46","strokeWidth":3.2},"encoding":{"x2":{"field":"ex"},"y2":{"field":"ey"}}},
{"transform":[{"filter":"datum.k==='green'"},{"calculate":"datum.x2","as":"x"},{"calculate":"datum.y2","as":"y"}],"mark":{"type":"point","shape":"M0,0L0.9,2L0,1.5L-0.9,2Z","filled":true,"size":169,"color":"#2e8b46","opacity":1,"strokeWidth":0},"encoding":{"angle":{"field":"ang","type":"quantitative","scale":null}}},
{"transform":[{"filter":"datum.k==='lab'"}],"mark":{"type":"text","fontSize":24,"color":"#231f20","align":"center","baseline":"middle"},"encoding":{"text":{"field":"t"}}},
{"transform":[{"filter":"datum.k==='E'"}],"mark":{"type":"text","text":"E","fontSize":24,"fontStyle":"italic","color":"#231f20","align":"right","baseline":"middle"}},
{"transform":[{"filter":"datum.k==='E'"}],"mark":{"type":"text","fontSize":24,"color":"#231f20","align":"left","baseline":"middle"},"encoding":{"text":{"field":"t"}}},
{"transform":[{"filter":"datum.k==='H'"}],"mark":{"type":"text","text":"+","fontSize":25,"color":"#e8312f","align":"right","baseline":"middle"}},
{"transform":[{"filter":"datum.k==='H'"}],"mark":{"type":"text","text":"H","fontSize":25,"fontStyle":"italic","color":"#e8312f","align":"left","baseline":"middle"}},
{"transform":[{"filter":"datum.k==='HFC'"}],"mark":{"type":"text","text":"H","fontSize":26,"fontStyle":"italic","color":"#3d5aa8","align":"right","baseline":"middle"}},
{"transform":[{"filter":"datum.k==='HFC'"}],"mark":{"type":"text","text":"FC","fontSize":14,"fontStyle":"italic","color":"#3d5aa8","align":"left","baseline":"middle","dx":1,"dy":8}}
]
}
]
}
